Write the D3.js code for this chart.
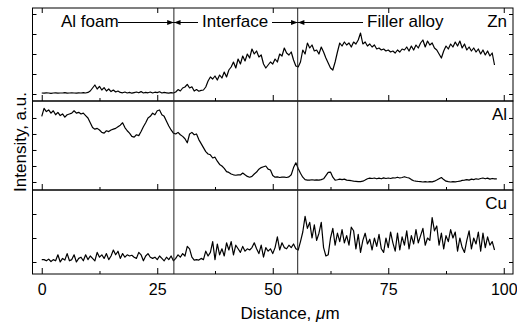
<!DOCTYPE html>
<html>
<head>
<meta charset="utf-8">
<script src="https://cdn.jsdelivr.net/npm/d3@7"></script>
<style>
  html, body { margin: 0; padding: 0; background: #fff; }
  svg { display: block; font-family: "Liberation Sans", Arial, sans-serif; }
</style>
</head>
<body>
<div id="chart"></div>
<script>
// line scan data, one value every 0.5 um starting at 0
const step = 0.5;
const znValues = [
  0.05,0.04,0.06,0.05,0.03,0.05,0.06,0.04,0.05,0.05,0.07,0.04,0.05,0.06,0.05,0.04,0.06,0.05,0.07,0.05,0.08,
  0.15,0.3,0.45,0.25,0.38,0.2,0.32,0.15,0.25,0.12,0.2,0.1,0.15,0.08,
  0.06,0.1,0.05,0.08,0.04,0.07,0.1,0.06,0.12,0.05,0.08,0.06,0.1,0.05,0.09,0.07,0.11,0.05,0.08,0.06,0.04,0.07,0.05,
  0.1,0.22,0.15,0.3,0.35,0.48,0.3,0.36,0.15,0.22,0.14,0.18,0.2,0.35,0.65,0.85,
  0.75,0.9,0.7,0.95,0.8,1.1,0.85,1.2,1.35,1.6,1.3,1.75,1.5,1.9,1.65,2.0,1.8,2.25,
  2.0,2.15,1.85,1.95,1.5,1.3,1.45,1.6,1.5,1.75,1.6,2.0,1.9,2.3,2.05,1.95,2.1,1.7,1.4,
  1.35,1.6,2.2,2.0,2.55,2.3,2.45,2.15,2.2,2.0,2.35,2.1,1.8,1.55,1.3,1.2,1.6,2.1,2.55,
  2.4,2.6,2.45,2.55,2.35,2.6,2.5,2.7,3.05,2.5,2.6,2.4,2.5,2.35,2.45,2.25,2.3,2.2,
  2.25,2.15,2.2,2.1,2.15,2.05,2.2,2.1,2.25,2.2,2.35,2.15,2.4,2.2,2.45,2.3,2.55,2.7,
  2.35,2.65,2.45,2.55,2.3,2.2,2.0,1.8,2.15,2.4,2.25,2.5,2.35,2.6,2.4,2.65,2.3,
  2.5,2.2,2.35,2.15,2.3,2.1,2.25,2.0,2.2,1.95,2.15,1.9,2.05,1.45
];
const alValues = [
  4.1,4.6,4.4,4.5,4.3,4.45,4.2,4.35,4.15,4.25,4.05,4.2,4.25,4.3,4.45,4.3,4.35,4.25,4.3,4.15,4.0,
  3.7,3.4,3.3,3.35,3.25,3.1,3.05,3.2,3.15,3.25,3.3,3.35,
  3.45,3.55,3.7,3.4,3.2,3.05,2.85,2.8,2.95,2.9,3.15,3.45,
  3.7,4.0,4.1,4.3,4.2,4.45,4.5,4.2,4.1,3.8,3.5,3.25,3.05,
  3.0,3.1,2.95,2.85,2.7,2.45,3.0,3.1,2.95,3.0,2.65,2.4,2.15,
  1.9,1.75,1.7,1.5,1.55,1.3,1.1,1.0,0.85,0.65,0.6,0.5,0.45,0.42,
  0.45,0.44,0.56,0.45,0.35,0.3,0.35,0.5,0.62,0.8,
  0.9,0.95,1.0,0.8,0.75,0.4,0.3,0.32,0.28,0.3,0.3,0.28,0.32,0.45,
  0.9,1.2,0.85,0.55,0.3,0.15,0.12,0.12,0.14,0.12,0.13,0.12,
  0.15,0.2,0.4,0.6,0.62,0.3,0.12,0.14,0.18,0.15,0.18,0.12,
  0.1,0.08,0.05,0.04,0.02,0.02,0.05,0.12,0.2,0.24,0.22,0.25,0.2,0.24,0.2,0.26,0.22,0.25,
  0.22,0.26,0.25,0.3,0.25,0.28,0.33,0.28,0.25,0.15,0.08,0.05,0.03,0.02,
  0.0,0.02,0.0,0.02,0.01,0.05,0.12,0.2,0.28,0.15,0.05,0.02,
  0.0,0.02,0.01,0.03,0.05,0.1,0.12,0.15,0.12,0.18,0.15,0.2,0.17,0.22,0.25,0.2,0.24,0.18,0.22,0.2,0.2
];
const cuValues = [
  0.1,0.1,0.05,0.12,0.02,0.1,0.05,0.3,0.0,0.15,0.08,0.35,0.05,0.1,0.3,0.0,0.15,0.2,0.05,0.3,
  0.1,0.25,0.15,0.05,0.4,0.2,0.3,0.15,0.35,0.1,0.25,0.5,0.3,0.45,0.15,0.35,0.2,0.3,0.25,0.28,
  0.2,0.15,0.4,0.3,0.05,0.25,0.35,0.2,0.15,0.2,0.1,0.25,0.15,0.05,0.2,0.1,0.25,0.05,
  0.15,0.3,0.2,0.35,0.25,0.65,0.55,0.2,0.08,0.1,0.08,0.15,0.1,0.45,0.25,0.4,0.85,0.1,0.75,0.3,
  0.55,0.25,0.8,0.5,0.85,0.3,0.7,0.55,0.4,0.65,0.45,0.55,0.5,0.6,0.8,
  0.55,0.35,0.7,0.2,0.6,0.45,0.55,0.35,0.6,1.05,0.5,0.8,0.6,0.55,0.7,0.6,0.75,0.55,0.5,
  0.85,1.25,1.9,1.4,1.65,1.0,1.55,0.9,1.2,1.65,0.6,0.25,0.3,1.0,1.4,0.7,1.2,0.85,1.35,0.8,
  1.1,0.7,1.45,1.3,0.55,1.15,0.4,0.9,1.2,0.75,0.95,0.5,1.0,0.65,1.15,0.55,0.4,1.0,0.6,1.25,
  0.8,0.45,1.2,0.5,1.05,0.7,1.3,0.55,1.1,0.75,1.35,0.8,1.1,1.4,0.7,1.0,0.9,1.85,1.3,1.5,
  0.7,1.2,0.55,1.1,0.85,1.35,1.0,1.25,0.45,1.0,0.6,0.4,0.9,1.3,0.55,1.0,0.75,1.25,0.45,1.2,
  0.6,1.05,0.7,0.85,0.5
];
const panelNames = ["Zn", "Al", "Cu"];
const boundaries = [28.6, 55.4];
const regionLabels = ["Al foam", "Interface", "Filler alloy"];
const xTicks = [0, 25, 50, 75, 100];
const xMinorTicks = [12.5, 37.5, 62.5, 87.5];

const W = 517, H = 326;
const left = 32.5, right = 513;

const svg = d3.select("#chart").append("svg")
  .attr("width", W)
  .attr("height", H);

const x = d3.scaleLinear().domain([-2, 102]).range([left, right]);

// each panel has its own intensity scale
const panels = [
  { name: panelNames[0], values: znValues, top: 8, bottom: 101, domain: [-0.35, 4.3], ticks: [0, 1, 2, 3, 4] },
  { name: panelNames[1], values: alValues, top: 101, bottom: 190, domain: [-0.5, 5.06], ticks: [0, 1, 2, 3, 4] },
  { name: panelNames[2], values: cuValues, top: 190, bottom: 274, domain: [-0.5, 3.0], ticks: [0, 1, 2] }
];

panels.forEach(p => {
  const y = d3.scaleLinear().domain(p.domain).range([p.bottom, p.top]);
  const g = svg.append("g");

  // frame
  g.append("rect")
    .attr("x", left).attr("y", p.top)
    .attr("width", right - left).attr("height", p.bottom - p.top)
    .attr("fill", "none").attr("stroke", "#000").attr("stroke-width", 1);

  // inward ticks left & right
  g.append("g").attr("transform", `translate(${left},0)`)
    .call(d3.axisRight(y).tickValues(p.ticks).tickSize(4).tickFormat(""))
    .call(a => a.select(".domain").remove());
  g.append("g").attr("transform", `translate(${right},0)`)
    .call(d3.axisLeft(y).tickValues(p.ticks).tickSize(4).tickFormat(""))
    .call(a => a.select(".domain").remove());

  // inward x ticks at the bottom of each panel
  g.append("g").attr("transform", `translate(0,${p.bottom})`)
    .call(d3.axisTop(x).tickValues(xTicks).tickSize(6).tickFormat(""))
    .call(a => a.select(".domain").remove());
  g.append("g").attr("transform", `translate(0,${p.bottom})`)
    .call(d3.axisTop(x).tickValues(xMinorTicks).tickSize(3).tickFormat(""))
    .call(a => a.select(".domain").remove());

  const line = d3.line()
    .x((d, i) => x(i * step))
    .y(d => y(d));

  g.append("path")
    .datum(p.values)
    .attr("fill", "none")
    .attr("stroke", "#000")
    .attr("stroke-width", 1.2)
    .attr("stroke-linejoin", "round")
    .attr("d", line);

  g.append("text")
    .attr("x", 507).attr("y", p.top + 19)
    .attr("text-anchor", "end")
    .attr("font-size", 17)
    .text(p.name);
});

// top ticks on the upper panel
svg.append("g").attr("transform", `translate(0,${panels[0].top})`)
  .call(d3.axisBottom(x).tickValues(xTicks).tickSize(5).tickFormat(""))
  .call(a => a.select(".domain").remove());

// bottom tick labels
svg.append("g").attr("transform", `translate(0,274)`)
  .call(d3.axisBottom(x).tickValues(xTicks).tickSize(0).tickPadding(10))
  .call(a => a.select(".domain").remove())
  .call(a => a.selectAll("text")
    .attr("font-size", 16)
    .attr("font-family", "Liberation Sans, Arial, sans-serif")
    .attr("fill", "#000"));

svg.selectAll(".tick line").attr("stroke", "#000");

// boundary lines
svg.selectAll(".boundary")
  .data(boundaries)
  .enter().append("line")
  .attr("class", "boundary")
  .attr("x1", d => x(d)).attr("x2", d => x(d))
  .attr("y1", 8).attr("y2", 274)
  .attr("stroke", "#222").attr("stroke-width", 1);

// region annotations with arrows
const annY = 22.5;
const defs = svg.append("defs");
defs.append("marker")
  .attr("id", "arr")
  .attr("viewBox", "0 0 8 6")
  .attr("refX", 8).attr("refY", 3)
  .attr("markerWidth", 7).attr("markerHeight", 5)
  .attr("markerUnits", "userSpaceOnUse")
  .attr("orient", "auto")
  .append("path").attr("d", "M0,0L8,3L0,6Z").attr("fill", "#000");

const ann = svg.append("g").attr("font-size", 17);
const regions = [
  { label: regionLabels[0], tx: 61, lines: [[118, x(boundaries[0])]] },
  { label: regionLabels[1], tx: 202, lines: [[198, x(boundaries[0])], [272, x(boundaries[1])]] },
  { label: regionLabels[2], tx: 367, lines: [[363, x(boundaries[1])]] }
];
regions.forEach(r => {
  ann.append("text").attr("x", r.tx).attr("y", 27).text(r.label);
  r.lines.forEach(l => {
    ann.append("line")
      .attr("x1", l[0]).attr("x2", l[1])
      .attr("y1", annY).attr("y2", annY)
      .attr("stroke", "#000").attr("stroke-width", 1)
      .attr("marker-end", "url(#arr)");
  });
});

// axis titles
const xt = svg.append("text")
  .attr("x", 290).attr("y", 319)
  .attr("text-anchor", "middle")
  .attr("font-size", 17);
xt.append("tspan").text("Distance, ");
xt.append("tspan").attr("font-style", "italic").text("\u03bc");
xt.append("tspan").text("m");

svg.append("text")
  .attr("transform", "translate(26,142) rotate(-90)")
  .attr("text-anchor", "middle")
  .attr("font-size", 17)
  .text("Intensity, a.u.");
</script>
</body>
</html>
